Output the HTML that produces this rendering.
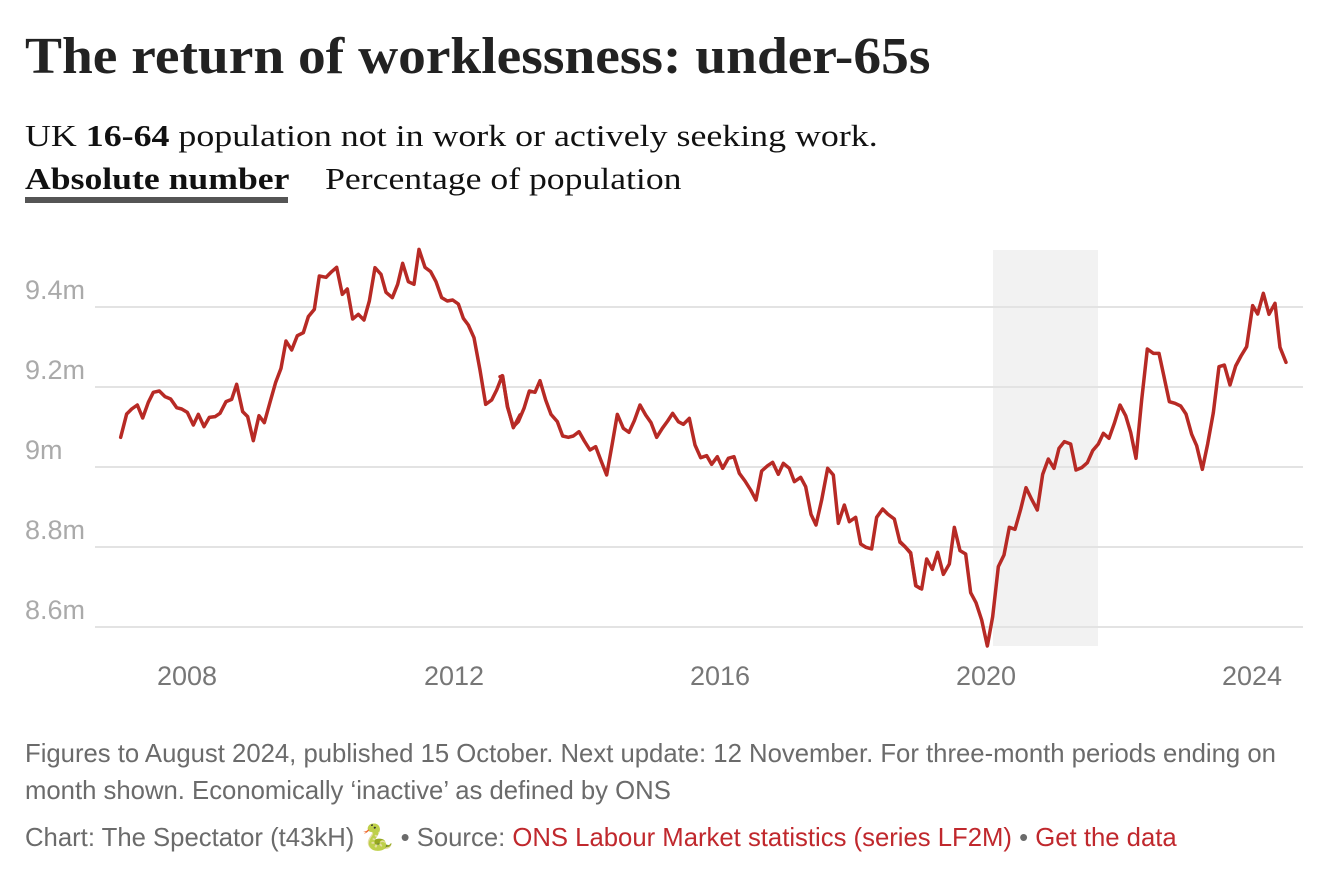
<!DOCTYPE html>
<html><head><meta charset="utf-8"><style>
html,body{margin:0;padding:0;background:#fff;width:1332px;height:892px;overflow:hidden}
.t{position:absolute;left:25px;white-space:nowrap;transform-origin:0 0}
#title{top:27px;font:bold 52px "Liberation Serif",serif;color:#222;transform:scaleX(1.066)}
#sub{top:118px;font:31px "Liberation Serif",serif;color:#111;transform:scaleX(1.157)}
#tabs{top:161px;font:31px "Liberation Serif",serif;color:#111;transform:scaleX(1.15)}
#ul{position:absolute;left:25px;top:197px;width:263px;height:6px;background:#555}
.f{font:25.7px "Liberation Sans",sans-serif;color:#6b6b6b}
.r{color:#c0282d}
svg{position:absolute;left:0;top:0}
</style></head><body>
<div class="t" id="title">The return of worklessness: under-65s</div>
<div class="t" id="sub">UK <b>16-64</b> population not in work or actively seeking work.</div>
<div class="t" id="tabs"><b>Absolute number</b>&nbsp;&nbsp;&nbsp; Percentage of population</div>
<div id="ul"></div>
<svg width="1332" height="892">
<rect x="993" y="250" width="105" height="396" fill="#f2f2f2"/>
<g stroke="#e3e3e3" stroke-width="2">
<line x1="95" x2="1303" y1="307" y2="307"/><line x1="95" x2="1303" y1="387" y2="387"/>
<line x1="95" x2="1303" y1="467" y2="467"/><line x1="95" x2="1303" y1="547" y2="547"/>
<line x1="95" x2="1303" y1="627" y2="627"/></g>
<g font-family="Liberation Sans,sans-serif" font-size="27" fill="#aaa">
<text x="25" y="299">9.4m</text><text x="25" y="379">9.2m</text><text x="25" y="459">9m</text>
<text x="25" y="539">8.8m</text><text x="25" y="619">8.6m</text></g>
<g font-family="Liberation Sans,sans-serif" font-size="27" fill="#777" text-anchor="middle">
<text x="187" y="685">2008</text><text x="454" y="685">2012</text><text x="720" y="685">2016</text>
<text x="986" y="685">2020</text><text x="1252" y="685">2024</text></g>
<g fill="none" stroke="#b72a25" stroke-width="3.5" stroke-linejoin="round" stroke-linecap="round">
<polyline vector-effect="non-scaling-stroke" transform="translate(100,240) scale(0.33333)" points="62,592 80,522 95,507 112,495 128,534 145,487 160,457 178,453 195,470 212,477 230,503 245,507 262,517 280,555 295,523 312,560 328,532 345,530 360,520 378,485 395,478 410,433 428,515 443,530 460,602 477,527 493,548 510,487 527,427 543,385 558,303 575,330 592,287 610,278 625,230 643,208 658,108 678,112 695,95 710,82 727,163 742,147 758,237 775,223 792,240 808,183 825,83 843,103 858,157 877,173 893,133 908,70 925,125 942,133 957,28 975,82 992,95 1008,125 1025,173 1042,183 1058,180 1075,192 1090,235 1105,255 1122,293 1140,390 1157,493 1175,480 1190,450 1207,407 1223,500 1240,563 1260,525"/>
<polyline vector-effect="non-scaling-stroke" transform="translate(500,360) scale(0.33333)" points="0,50 8,48 22,140 40,200 55,185 72,145 88,93 105,97 120,62 137,120 153,163 172,185 188,228 205,232 220,228 237,215 253,243 270,270 287,260 303,302 320,345 337,250 352,163 370,205 387,217 403,182 420,135 437,165 453,188 470,232 487,205 503,183 518,160 535,185 550,193 568,175 585,255 602,293 620,287 635,313 652,290 668,325 685,295 702,290 718,340 735,363 752,390 768,420 785,333 803,317 818,307 835,343 850,310 868,325 883,365 902,352 917,380 933,463 948,495 965,420 983,325 1000,345 1015,490 1033,435 1048,485 1067,472 1082,552 1098,562 1115,567 1130,472 1148,447 1163,462 1183,477 1200,547 1215,560 1232,578 1248,677 1260,685"/>
<polyline vector-effect="non-scaling-stroke" transform="translate(900,240) scale(0.33333)" points="0,905 15,920 32,940 47,1037 65,1047 80,957 97,988 113,937 130,1003 148,972 163,862 180,932 197,942 212,1058 228,1088 245,1140 262,1218 278,1130 295,980 312,945 328,862 345,868 362,808 378,743 395,778 412,810 428,703 445,657 462,685 477,625 493,605 512,612 528,690 545,683 562,668 578,632 595,612 610,580 627,595 643,550 660,495 677,527 692,577 708,655 725,480 742,327 760,340 777,340 792,410 808,485 825,490 842,498 858,522 875,583 890,617 907,688 923,612 940,518 957,380 973,375 990,435 1007,378 1023,348 1040,320 1058,197 1073,222 1090,160 1107,223 1125,190 1140,322 1158,367"/>
</g>
</svg>
<div class="t f" style="top:740px">Figures to August 2024, published 15 October. Next update: 12 November. For three-month periods ending on</div>
<div class="t f" style="top:777px">month shown. Economically ‘inactive’ as defined by ONS</div>
<div class="t f" style="top:823px">Chart: The Spectator (t43kH) 🐍 • Source: <span class="r">ONS Labour Market statistics (series LF2M)</span> • <span class="r">Get the data</span></div>
</body></html>
